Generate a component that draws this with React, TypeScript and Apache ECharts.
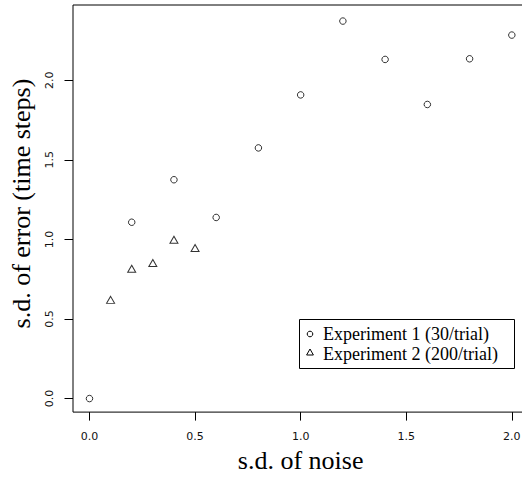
import React, { useEffect, useRef } from "react";
import * as echarts from "echarts";

const noise1 = [0, 0.2, 0.4, 0.6, 0.8, 1.0, 1.2, 1.4, 1.6, 1.8, 2.0];
const error1 = [0, 1.108, 1.375, 1.138, 1.575, 1.908, 2.372, 2.131, 1.848, 2.135, 2.284];
const noise2 = [0.1, 0.2, 0.3, 0.4, 0.5];
const error2 = [0.62, 0.816, 0.852, 0.998, 0.946];
const tickValues = [0, 0.5, 1, 1.5, 2];
const seriesNames = ["Experiment 1 (30/trial)", "Experiment 2 (200/trial)"];
const xTitle = "s.d. of noise";
const yTitle = "s.d. of error (time steps)";

export default function App() {
  const ref = useRef<HTMLDivElement>(null);
  useEffect(() => {
    if (!ref.current) return;
    const chart = echarts.init(ref.current, null, { renderer: "svg" });
    const hollow = { color: "rgba(0,0,0,0)", borderColor: "#000", borderWidth: 1 };
    const tickLabel = {
      fontFamily: "DejaVu Sans",
      fontSize: 11,
      color: "#111",
    };
    const serif = "'Liberation Serif', 'Times New Roman', serif";
    const lineStroke = { stroke: "#000", fill: "none", lineWidth: 1 };
    chart.setOption({
      animation: false,
      backgroundColor: "#fff",
      grid: {
        left: 70.7,
        top: 5,
        width: 457.6,
        height: 409.3,
        show: true,
        borderColor: "#000",
        borderWidth: 1,
        backgroundColor: "transparent",
      },
      graphic: [
        { type: "rect", shape: { x: 299.5, y: 319.5, width: 215, height: 49 }, style: lineStroke },
        { type: "circle", shape: { cx: 310, cy: 334, r: 2.8 }, style: lineStroke },
        {
          type: "polygon",
          shape: { points: [[306.6, 355], [313.4, 355], [310, 349]] },
          style: lineStroke,
        },
        {
          type: "text",
          x: 323,
          y: 334,
          style: { text: seriesNames[0], font: `18px ${serif}`, fill: "#000", verticalAlign: "middle", align: "left" },
        },
        {
          type: "text",
          x: 323,
          y: 353.5,
          style: { text: seriesNames[1], font: `18px ${serif}`, fill: "#000", verticalAlign: "middle", align: "left" },
        },
      ],
      xAxis: {
        type: "value",
        min: -0.078,
        max: 2.078,
        name: xTitle,
        nameLocation: "middle",
        nameGap: 34.5,
        nameTextStyle: { fontFamily: "Liberation Serif", fontSize: 26, color: "#000" },
        axisLine: { show: false, onZero: false },
        axisTick: { show: true, length: 8.5, inside: false, customValues: tickValues, lineStyle: { color: "#000" } },
        axisLabel: {
          ...tickLabel,
          margin: 19,
          customValues: tickValues,
          formatter: (v: number) => v.toFixed(1),
        },
        splitLine: { show: false },
      },
      yAxis: {
        type: "value",
        min: -0.085,
        max: 2.473,
        name: yTitle,
        nameLocation: "middle",
        nameGap: 39,
        nameRotate: 90,
        nameTextStyle: {
          fontFamily: "Liberation Serif",
          fontSize: 26,
          color: "#000",
          padding: [0, 0, 0, 10],
        },
        axisLine: { show: false, onZero: false },
        axisTick: { show: true, length: 8.5, inside: false, customValues: tickValues, lineStyle: { color: "#000" } },
        axisLabel: {
          ...tickLabel,
          margin: 18,
          rotate: 90,
          customValues: tickValues,
          formatter: (v: number) => v.toFixed(1),
        },
        splitLine: { show: false },
      },
      series: [
        {
          name: seriesNames[0],
          type: "scatter",
          symbol: "circle",
          symbolSize: 6.5,
          itemStyle: hollow,
          data: noise1.map((x, i) => [x, error1[i]]),
        },
        {
          name: seriesNames[1],
          type: "scatter",
          symbol: "triangle",
          symbolSize: [8, 7],
          itemStyle: hollow,
          data: noise2.map((x, i) => [x, error2[i]]),
        },
      ],
    });
    return () => chart.dispose();
  }, []);
  return (
    <div style={{ position: "fixed", left: 0, top: 0, width: 522, height: 478, overflow: "hidden", background: "#fff" }}>
      <div ref={ref} style={{ width: 540, height: 478 }} />
    </div>
  );
}
